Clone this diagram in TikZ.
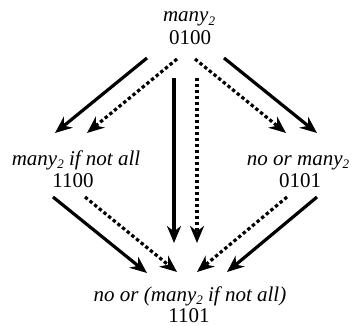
\documentclass[tikz,border=0pt]{standalone}
\usepackage{fontspec}
\setmainfont{Liberation Serif}
\usetikzlibrary{arrows.meta}
\newcommand{\subtwo}{\raisebox{-0.35ex}{\fontsize{13}{13}\selectfont\itshape 2}}
\tikzset{
  lbl/.style={anchor=base, inner sep=0pt, font=\fontsize{21}{23}\selectfont},
  arr/.style={line width=3.2pt, -{Stealth[length=17pt,width=14pt,inset=5.5pt]}},
  solidarr/.style={arr},
  dotarr/.style={arr, dash pattern=on 3.4pt off 2.6pt}
}
\begin{document}
\begin{tikzpicture}[x=1pt,y=-1pt]
\useasboundingbox (0,0) rectangle (353,326);

% lattice labels
\node[lbl] (topname) at (189,22) {\textit{many}\subtwo};
\node[lbl] (topcode) at (190,45) {0100};
\node[lbl] (leftname) at (76,165) {\textit{many}\subtwo\ \textit{if not all}};
\node[lbl] (leftcode) at (73,187) {1100};
\node[lbl] (rightname) at (298,165) {\textit{no or many}\subtwo};
\node[lbl] (rightcode) at (300,187) {0101};
\node[lbl] (botname) at (190,301) {\textit{no or (many}\subtwo\ \textit{if not all)}};
\node[lbl] (botcode) at (189,322) {1101};

% arrow end points
\coordinate (a1s) at (147,58);  \coordinate (a1e) at (55,133);
\coordinate (a2s) at (177,59);  \coordinate (a2e) at (87,133);
\coordinate (a3s) at (174,78);  \coordinate (a3e) at (174,243);
\coordinate (a4s) at (197,78);  \coordinate (a4e) at (197,243);
\coordinate (a5s) at (195,59);  \coordinate (a5e) at (286,133);
\coordinate (a6s) at (224,58);  \coordinate (a6e) at (317,133);
\coordinate (b1s) at (53,197);  \coordinate (b1e) at (147,273);
\coordinate (b2s) at (85,197);  \coordinate (b2e) at (177,272);
\coordinate (b3s) at (287,197); \coordinate (b3e) at (197,272);
\coordinate (b4s) at (317,197); \coordinate (b4e) at (227,272);

% upper arrows
\draw[solidarr] (a1s) -- (a1e);
\draw[dotarr]   (a2s) -- (a2e);
\draw[solidarr] (a3s) -- (a3e);
\draw[dotarr]   (a4s) -- (a4e);
\draw[dotarr]   (a5s) -- (a5e);
\draw[solidarr] (a6s) -- (a6e);

% lower arrows
\draw[solidarr] (b1s) -- (b1e);
\draw[dotarr]   (b2s) -- (b2e);
\draw[dotarr]   (b3s) -- (b3e);
\draw[solidarr] (b4s) -- (b4e);
\end{tikzpicture}
\end{document}
